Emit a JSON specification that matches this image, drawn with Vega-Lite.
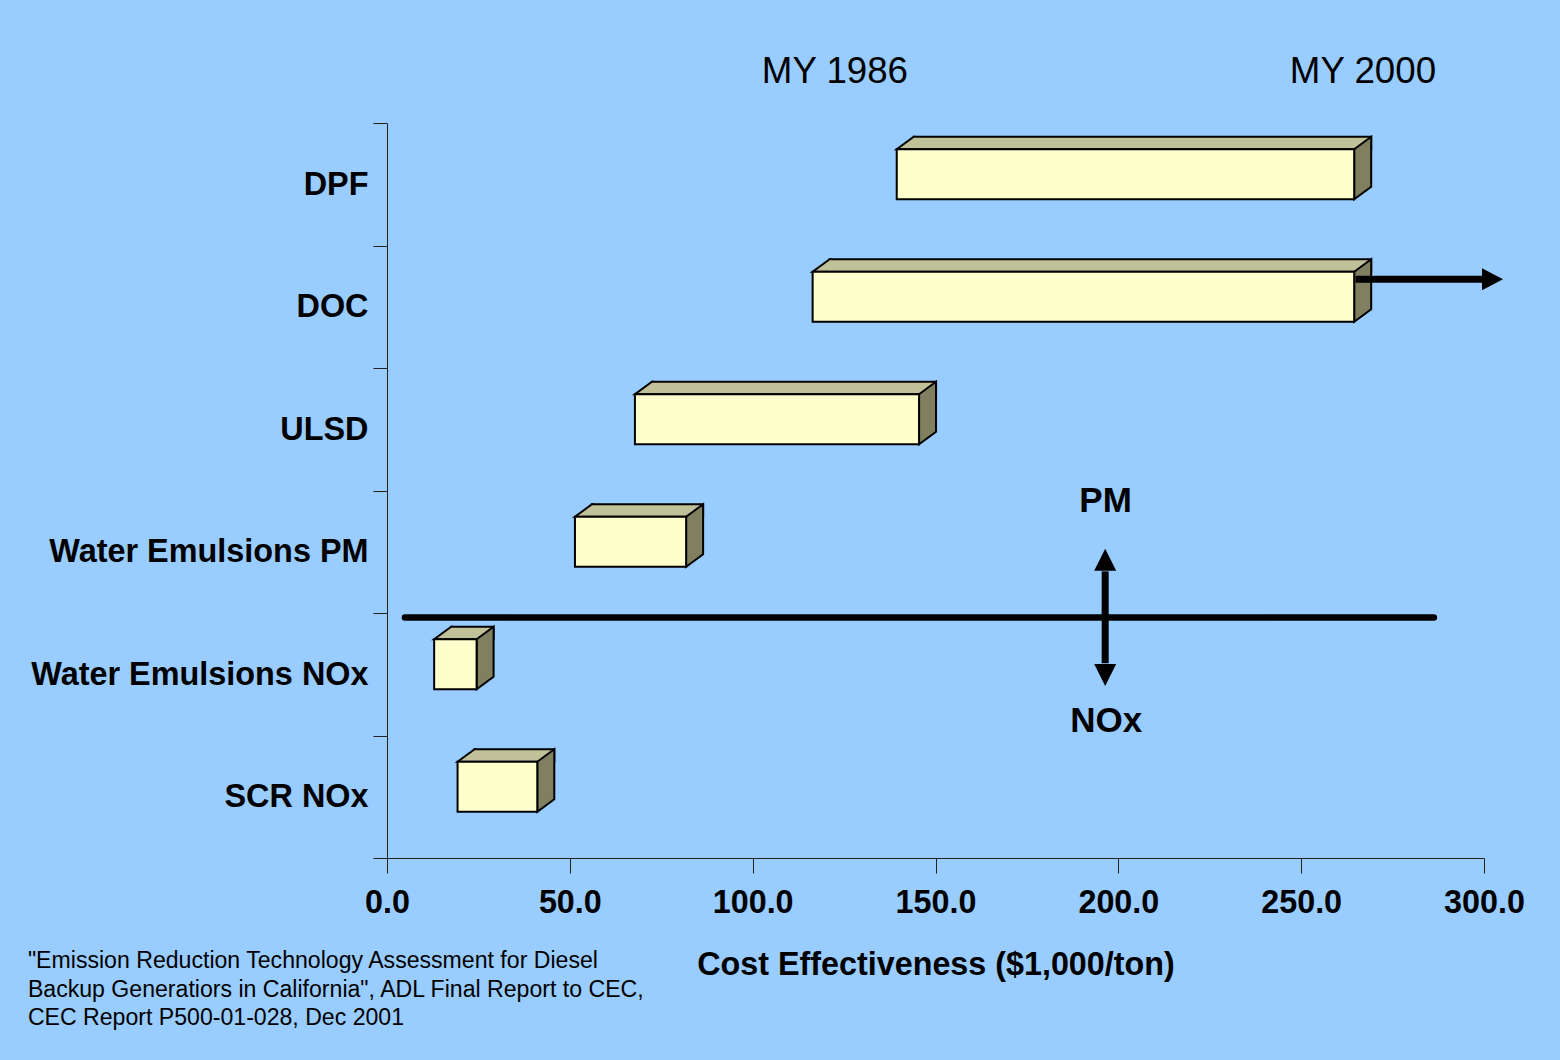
{
  "$schema": "https://vega.github.io/schema/vega-lite/v6.json",
  "width": 1097,
  "height": 735,
  "autosize": {"type": "none"},
  "padding": {"left": 387, "top": 123, "right": 76, "bottom": 202},
  "background": "#99CCFF",
  "config": {
    "view": {"stroke": null},
    "font": "Liberation Sans",
    "axisX": {
      "labelFontSize": 32.3, "labelFontWeight": "bold", "labelColor": "black",
      "tickSize": 15, "tickColor": "#222", "domainColor": "#222", "domainWidth": 1, "tickWidth": 1,
      "labelPadding": 13, "grid": false, "labelFlush": false, "labelOverlap": false, "labelBound": false,
      "titleFontSize": 32.3, "titleFontWeight": "bold", "titleColor": "black", "titlePadding": 30
    },
    "axisY": {
      "labelFontSize": 32.4, "labelFontWeight": "bold", "labelColor": "black",
      "tickSize": 14, "tickColor": "#222", "domainColor": "#222", "domainWidth": 1, "tickWidth": 1,
      "labelPadding": 5, "grid": false, "tickBand": "extent", "labelLimit": 600
    }
  },
  "datasets": {
    "bars": [
      {"tech": "DPF", "start": 139.4, "end": 264.5},
      {"tech": "DOC", "start": 116.4, "end": 264.5},
      {"tech": "ULSD", "start": 67.8, "end": 145.5},
      {"tech": "Water Emulsions PM", "start": 51.4, "end": 81.8},
      {"tech": "Water Emulsions NOx", "start": 12.9, "end": 24.5},
      {"tech": "SCR NOx", "start": 19.3, "end": 41.1}
    ],
    "hlines": [
      {"x": 4.9, "x2": 286.3, "y": 4.037}
    ],
    "shafts": [
      {"x": 196.4, "x2": 196.4, "y": 3.66, "y2": 4.41},
      {"x": 264.9, "x2": 299.6, "y": 1.276, "y2": 1.276}
    ],
    "heads": [
      {"dir": "up", "x": 196.4, "y": 3.655},
      {"dir": "down", "x": 196.4, "y": 4.416},
      {"dir": "right", "x": 299.45, "y": 1.276}
    ],
    "years": [
      {"label": "MY 1986", "x": 122.5, "y": -0.413},
      {"label": "MY 2000", "x": 266.9, "y": -0.413}
    ],
    "split": [
      {"label": "PM", "x": 196.5, "y": 3.086},
      {"label": "NOx", "x": 196.7, "y": 4.878}
    ],
    "source": [
      {"label": "\"Emission Reduction Technology Assessment for Diesel", "x": -98.2, "y": 6.841},
      {"label": "Backup Generatiors in California\", ADL Final Report to CEC,", "x": -98.2, "y": 7.078},
      {"label": "CEC Report P500-01-028, Dec 2001", "x": -98.2, "y": 7.306}
    ]
  },
  "layer": [
    {
      "data": {"name": "bars"},
      "encoding": {
        "y": {
          "field": "tech", "type": "nominal", "title": null,
          "scale": {"domain": ["DPF", "DOC", "ULSD", "Water Emulsions PM", "Water Emulsions NOx", "SCR NOx"], "paddingInner": 0, "paddingOuter": 0}
        }
      },
      "layer": [
        {
          "mark": {"type": "bar", "height": 12.5, "yOffset": -41.25, "xOffset": 17, "x2Offset": 17, "fill": "#C0C099", "stroke": "black", "strokeWidth": 2},
          "encoding": {
            "x": {"field": "start", "type": "quantitative", "title": "Cost Effectiveness ($1,000/ton)",
                  "scale": {"domain": [0, 300], "nice": false, "zero": false},
                  "axis": {"values": [0, 50, 100, 150, 200, 250, 300], "format": ".1f"}},
            "x2": {"field": "end"}
          }
        },
        {
          "mark": {"type": "point", "shape": "M19,-35 L0,-35 L17,-47.5 L19,-47.5", "size": 4, "filled": true, "fill": "#C0C099", "stroke": "black", "strokeWidth": 2, "opacity": 1, "strokeJoin": "miter"},
          "encoding": {
            "x": {"field": "start", "type": "quantitative", "title": "Cost Effectiveness ($1,000/ton)"}
          }
        },
        {
          "mark": {"type": "point", "shape": "M0,-35 L17,-47.5 L17,2.5 L0,15 Z", "size": 4, "filled": true, "fill": "#808060", "stroke": "black", "strokeWidth": 2, "opacity": 1, "strokeJoin": "miter"},
          "encoding": {
            "x": {"field": "end", "type": "quantitative", "title": "Cost Effectiveness ($1,000/ton)"}
          }
        },
        {
          "mark": {"type": "bar", "height": 50, "yOffset": -10, "fill": "#FFFFCC", "stroke": "black", "strokeWidth": 2},
          "encoding": {
            "x": {"field": "start", "type": "quantitative", "title": "Cost Effectiveness ($1,000/ton)"},
            "x2": {"field": "end"}
          }
        }
      ]
    },
    {
      "encoding": {
        "y": {"field": "y", "type": "quantitative", "axis": null, "scale": {"domain": [0, 6], "reverse": true, "nice": false, "zero": false}}
      },
      "layer": [
        {
          "data": {"name": "hlines"},
          "mark": {"type": "rule", "strokeWidth": 6.5, "strokeCap": "round", "color": "black"},
          "encoding": {
            "x": {"field": "x", "type": "quantitative", "title": "Cost Effectiveness ($1,000/ton)"},
            "x2": {"field": "x2"}
          }
        },
        {
          "data": {"name": "shafts"},
          "mark": {"type": "rule", "strokeWidth": 7, "strokeCap": "butt", "color": "black"},
          "encoding": {
            "x": {"field": "x", "type": "quantitative", "title": "Cost Effectiveness ($1,000/ton)"},
            "x2": {"field": "x2"},
            "y2": {"field": "y2"}
          }
        },
        {
          "data": {"name": "heads"},
          "mark": {"type": "point", "size": 4, "filled": true, "color": "black", "opacity": 1},
          "encoding": {
            "x": {"field": "x", "type": "quantitative", "title": "Cost Effectiveness ($1,000/ton)"},
            "shape": {"field": "dir", "type": "nominal", "legend": null,
                      "scale": {"domain": ["up", "down", "right"], "range": ["M-11,0 L0,-22 L11,0 Z", "M-11,0 L0,22 L11,0 Z", "M0,-11 L21,0 L0,11 Z"]}}
          }
        },
        {
          "data": {"name": "years"},
          "mark": {"type": "text", "fontSize": 36.7, "color": "black", "align": "center", "baseline": "middle"},
          "encoding": {
            "x": {"field": "x", "type": "quantitative", "title": "Cost Effectiveness ($1,000/ton)"},
            "text": {"field": "label"}
          }
        },
        {
          "data": {"name": "split"},
          "mark": {"type": "text", "fontSize": 35, "fontWeight": "bold", "color": "black", "align": "center", "baseline": "middle"},
          "encoding": {
            "x": {"field": "x", "type": "quantitative", "title": "Cost Effectiveness ($1,000/ton)"},
            "text": {"field": "label"}
          }
        },
        {
          "data": {"name": "source"},
          "mark": {"type": "text", "fontSize": 23.1, "color": "black", "align": "left", "baseline": "middle"},
          "encoding": {
            "x": {"field": "x", "type": "quantitative", "title": "Cost Effectiveness ($1,000/ton)"},
            "text": {"field": "label"}
          }
        }
      ]
    }
  ],
  "resolve": {"scale": {"y": "independent"}, "axis": {"y": "independent"}}
}
